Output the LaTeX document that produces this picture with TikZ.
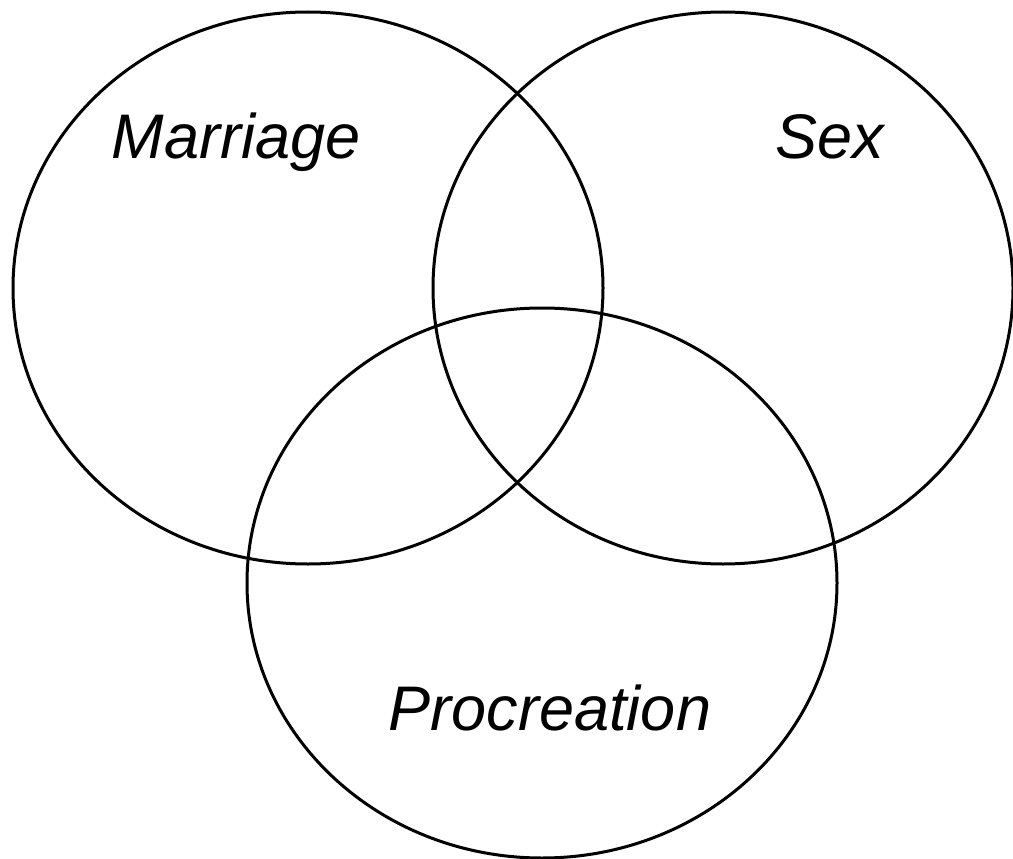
\documentclass[tikz,border=0pt]{standalone}
\usepackage{fontspec}
\setmainfont{Liberation Sans}
\begin{document}
\begin{tikzpicture}[
    x=1pt, y=-1pt,
    ring/.style={draw=black, line width=3pt},
    setlabel/.style={anchor=base, font=\fontsize{63}{72}\selectfont\itshape, inner sep=0pt},
]
    \useasboundingbox (0,0) rectangle (1013,859);

    % The three sets
    \draw[ring] (308,288) ellipse [x radius=295, y radius=276];
    \draw[ring] (723,288) ellipse [x radius=290, y radius=276];
    \draw[ring] (542,583) ellipse [x radius=295, y radius=275];

    % Set names
    \node[setlabel] (marriage) at (236,158) {Marriage};
    \node[setlabel] (sex) at (830,158) {Sex};
    \node[setlabel] (procreation) at (550,730) {Procreation};
\end{tikzpicture}
\end{document}
